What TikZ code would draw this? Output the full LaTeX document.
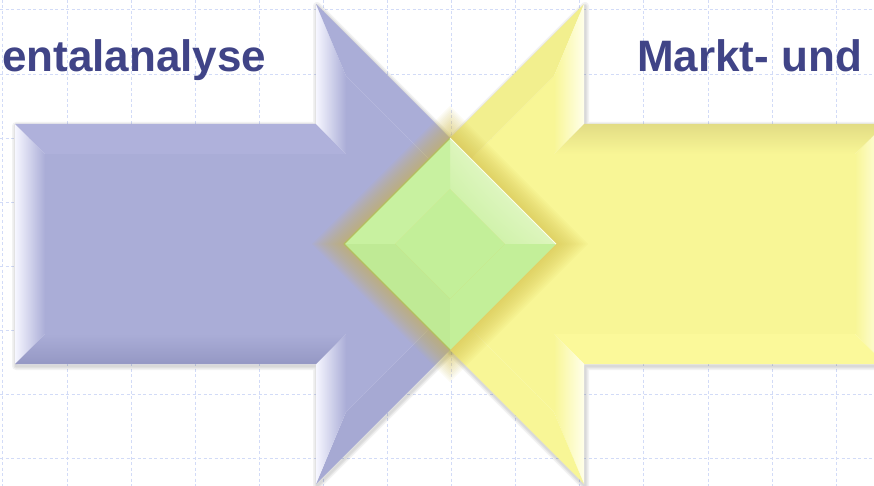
\documentclass[tikz,border=0pt]{standalone}
\usepackage{fontspec}
\usetikzlibrary{shadings}
\newfontfamily\titlefont{Liberation Sans}
\definecolor{titleblue}{HTML}{404487}
\definecolor{gridblue}{HTML}{D2DBF7}
\definecolor{bluefill}{HTML}{AAADD7}
\definecolor{bluehi}{HTML}{F6F6FF}
\definecolor{bluetop}{HTML}{AFB1DB}
\definecolor{bluelow}{HTML}{9598C4}
\definecolor{bluedark}{HTML}{A6A9D3}
\definecolor{yelfill}{HTML}{F8F696}
\definecolor{yelhi}{HTML}{FFFFEA}
\definecolor{yelbot}{HTML}{FBF99A}
\definecolor{yellowlow}{HTML}{E2DC84}
\definecolor{yeldark}{HTML}{F2EF8E}
\definecolor{greenfill}{HTML}{C3EF99}
\definecolor{greenhi}{HTML}{FBFFEE}
\definecolor{greenedge}{HTML}{DDF5BC}
\definecolor{greenlite}{HTML}{C8F1A0}
\definecolor{greendark}{HTML}{BFEA95}
\definecolor{greenline}{HTML}{B4BE60}
\definecolor{glowc}{HTML}{D3BE48}

\begin{document}
\begin{tikzpicture}[x=1pt,y=-1pt,
    gridline/.style={gridblue,line width=1pt,dash pattern=on 3pt off 2.5pt},
    shadowline/.style={black,opacity=.05,line join=round},
    title/.style={font=\titlefont\bfseries\fontsize{44}{53}\selectfont,text=titleblue,inner sep=0pt}]
  \useasboundingbox (0,0) rectangle (874,486);
  \clip (0,0) rectangle (874,486);
  \fill[white] (0,0) rectangle (874,486);
  % grid
  \foreach \gx in {0,...,13}
    \draw[gridline] ({2.9+64.1*\gx},0) -- ({2.9+64.1*\gx},486);
  \foreach \gy in {0,...,7}
    \draw[gridline] (0,{10+64.1*\gy}) -- (874,{10+64.1*\gy});
  % titles
  \node[title,anchor=base west] (fundtitle) at (2,72) {entalanalyse};
  \node[title,anchor=base west] (markttitle) at (637,72) {Markt- und};
  % soft shadows
  \begin{scope}[shift={(1,2)}]
    \foreach \w in {8pt,5pt,2.5pt} {
      \draw[shadowline,line width=\w] (15,124) -- (316,124) -- (316,4) -- (556,244) -- (316,484) -- (316,364) -- (15,364) -- cycle;
      \draw[shadowline,line width=\w] (885,364) -- (584,364) -- (584,484) -- (344,244) -- (584,4) -- (584,124) -- (885,124) -- cycle;
    }
  \end{scope}
  % blue arrow
  \fill[bluefill] (45,154) -- (346,154) -- (346,76) -- (514,244) -- (346,412) -- (346,334) -- (45,334) -- cycle;
  \shade[left color=bluehi,right color=bluefill] (15,364) -- (15,124) -- (45,154) -- (45,334) -- cycle;
  \fill[bluetop] (15,124) -- (316,124) -- (346,154) -- (45,154) -- cycle;
  \shade[left color=bluehi,right color=bluefill] (316,124) -- (316,4) -- (346,76) -- (346,154) -- cycle;
  \fill[bluefill] (316,4) -- (556,244) -- (514,244) -- (346,76) -- cycle;
  \fill[bluedark] (556,244) -- (316,484) -- (346,412) -- (514,244) -- cycle;
  \shade[left color=bluehi,right color=bluefill] (316,484) -- (316,364) -- (346,334) -- (346,412) -- cycle;
  \shade[top color=bluefill,bottom color=bluelow] (316,364) -- (15,364) -- (45,334) -- (346,334) -- cycle;
  % yellow arrow
  \fill[yelfill] (855,334) -- (554,334) -- (554,412) -- (386,244) -- (554,76) -- (554,154) -- (855,154) -- cycle;
  \shade[left color=yelfill,right color=yelhi] (885,124) -- (885,364) -- (855,334) -- (855,154) -- cycle;
  \fill[yelbot] (885,364) -- (584,364) -- (554,334) -- (855,334) -- cycle;
  \shade[left color=yelfill,right color=yelhi] (584,364) -- (584,484) -- (554,412) -- (554,334) -- cycle;
  \fill[yelfill] (584,484) -- (344,244) -- (386,244) -- (554,412) -- cycle;
  \fill[yeldark] (344,244) -- (584,4) -- (554,76) -- (386,244) -- cycle;
  \shade[left color=yelfill,right color=yelhi] (584,4) -- (584,124) -- (554,154) -- (554,76) -- cycle;
  \shade[top color=yellowlow,bottom color=yelfill] (584,124) -- (885,124) -- (855,154) -- (554,154) -- cycle;
  % glow round the overlap
  \foreach \g in {1,...,14}
    \fill[glowc,opacity=.055] (450,{138-2.3*\g}) -- ({556+2.3*\g},244) -- (450,{350+2.3*\g}) -- ({344-2.3*\g},244) -- cycle;
  % green overlap
  \fill[greenfill] (450,189) -- (505,244) -- (450,299) -- (395,244) -- cycle;
  \shade[upper left=greenedge,upper right=greenhi,lower left=greenfill,lower right=greenedge] (450,138) -- (556,244) -- (505,244) -- (450,189) -- cycle;
  \fill[greenlite] (344,244) -- (450,138) -- (450,189) -- (395,244) -- cycle;
  \fill[greendark] (344,244) -- (450,350) -- (450,299) -- (395,244) -- cycle;
  \fill[greenfill] (450,350) -- (556,244) -- (505,244) -- (450,299) -- cycle;
  \draw[greenline,line width=1.2pt,line join=round] (450,138) -- (344,244) -- (450,350);
  \draw[greenhi,line width=1pt] (450,138) -- (556,244);
\end{tikzpicture}
\end{document}
